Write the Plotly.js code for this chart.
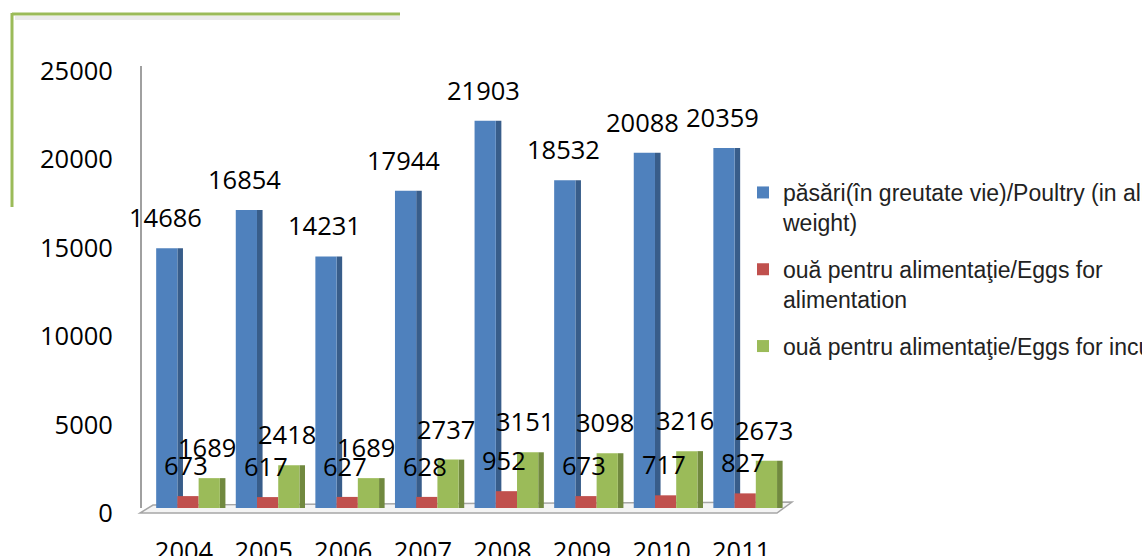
<!DOCTYPE html>
<html>
<head>
<meta charset="utf-8">
<script src="https://cdn.plot.ly/plotly-3.0.1.min.js"></script>
<style>html,body{margin:0;padding:0;background:#fff;overflow:hidden}#chart{width:1142px;height:556px}</style>
</head>
<body>
<div id="chart"></div>
<script>
const years = ['2004','2005','2006','2007','2008','2009','2010','2011'];
const poultry = [14686,16854,14231,17944,21903,18532,20088,20359];
const eggsFood = [673,617,627,628,952,673,717,827];
const eggsIncub = [1689,2418,1689,2737,3151,3098,3216,2673];
const seriesNames = [
  'păsări(în greutate vie)/Poultry (in alive<br>weight)',
  'ouă pentru alimentaţie/Eggs for<br>alimentation',
  'ouă pentru alimentaţie/Eggs for incubation'
];
const colors = ['#4f81bd','#c0504d','#9bbb59'];
const sideColors = ['#385d8a','#8c3836','#71893f'];
const series = [poultry, eggsFood, eggsIncub];

const L = 142, R = 785, T = 66, B = 508, W = 1142, H = 556;
const pw = R - L, ph = B - T;
const px = x => (x - L) / pw;
const py = y => (B - y) / ph;

const numFont = {family: 'Open Sans, Liberation Sans, sans-serif', size: 25.5, color: '#000'};

const bw = 0.8 / 3;          // front face width (category units)
const sw = 0.07;             // side face width
const offs = [-0.4, -0.4 + bw, -0.4 + 2 * bw];

function front(i) {
  return {type: 'bar', x: years, y: series[i], name: seriesNames[i], legendgroup: 'g' + i,
    offset: offs[i], width: bw, marker: {color: colors[i], line: {width: 0}}, hoverinfo: 'x+y'};
}
function side(i) {
  return {type: 'bar', x: years, y: series[i], name: seriesNames[i], legendgroup: 'g' + i,
    showlegend: false, offset: offs[i] + bw, width: sw,
    marker: {color: sideColors[i], line: {width: 0}}, hoverinfo: 'skip'};
}
const traces = [side(0), front(0), front(1), side(2), front(2)];

const shifts = [-21, 0, 21];
const annotations = [];
series.forEach((vals, i) => {
  vals.forEach((v, j) => {
    annotations.push({
      x: j, y: v, xref: 'x', yref: 'y',
      text: String(v), showarrow: false,
      xanchor: 'center', yanchor: 'bottom',
      xshift: shifts[i] - 2, yshift: 12,
      font: numFont
    });
  });
});

const shapes = [
  {type: 'path', xref: 'paper', yref: 'paper', layer: 'below',
   path: `M${px(140)},${py(513)} L${px(777)},${py(513)} L${px(792)},${py(502)} L${px(153)},${py(505)} Z`,
   fillcolor: '#f4f4f4', line: {color: '#a6a6a6', width: 1.5}},
  {type: 'line', xref: 'paper', yref: 'paper', x0: px(15), x1: px(400), y0: py(18), y1: py(18),
   line: {color: 'rgba(0,0,0,0.08)', width: 4}},
  {type: 'line', xref: 'paper', yref: 'paper', x0: px(12), x1: px(400), y0: py(14), y1: py(14),
   line: {color: '#9bbb59', width: 3}},
  {type: 'line', xref: 'paper', yref: 'paper', x0: px(12), x1: px(12), y0: py(13), y1: py(207),
   line: {color: '#9bbb59', width: 3}}
];

const layout = {
  width: W, height: H,
  margin: {l: L, r: W - R, t: T, b: H - B, autoexpand: false},
  paper_bgcolor: '#fff', plot_bgcolor: 'rgba(0,0,0,0)',
  barmode: 'overlay',
  showlegend: true,
  legend: {
    x: px(743), y: py(171), xanchor: 'left', yanchor: 'top',
    font: {family: 'Liberation Sans, Arial, sans-serif', size: 23, color: '#222'},
    valign: 'top', tracegroupgap: 14, itemwidth: 30,
    bgcolor: 'rgba(0,0,0,0)'
  },
  xaxis: {
    type: 'category',
    range: [-0.578, 7.5], showgrid: false, zeroline: false, showline: false,
    ticks: 'outside', ticklen: 0, ticklabelstandoff: 20, ticklabelshift: -4,
    tickfont: numFont, fixedrange: true
  },
  yaxis: {
    range: [0, 25000], tickvals: [0,5000,10000,15000,20000,25000],
    ticktext: ['0','5000','10000','15000','20000','25000'],
    showgrid: false, zeroline: false, showline: true, linecolor: '#a0a0a0', linewidth: 2,
    ticks: 'outside', ticklen: 0, ticklabelstandoff: 22, ticklabelshift: 5,
    tickfont: numFont, fixedrange: true
  },
  annotations: annotations,
  shapes: shapes
};

Plotly.newPlot('chart', traces, layout, {displayModeBar: false, staticPlot: true});
</script>
</body>
</html>
